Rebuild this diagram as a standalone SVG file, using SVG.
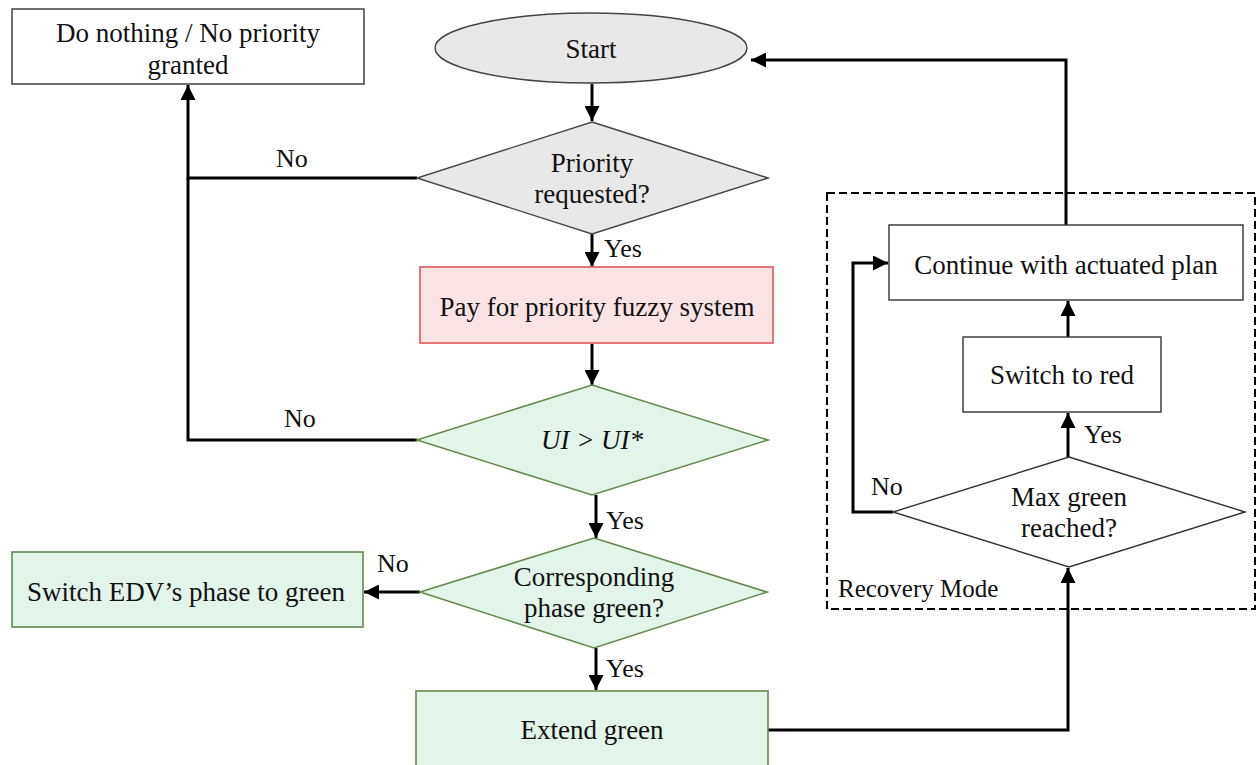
<svg xmlns="http://www.w3.org/2000/svg" width="1257" height="765" viewBox="0 0 1257 765">
<defs>
<style>
text{font-family:"Liberation Serif","Times New Roman",serif;font-size:27px;fill:#111;}
.c{text-anchor:middle;}
.lbl{font-size:26px;}
.white{fill:#fff;stroke:#333;stroke-width:1.4;}
.gray{fill:#e8e8e8;stroke:#444;stroke-width:1.4;}
.red{fill:#f9e3e4;stroke:#e06a6a;stroke-width:1.8;}
.green{fill:#e3f4ea;stroke:#638a4c;stroke-width:1.6;}
.conn{fill:none;stroke:#000;stroke-width:3;}
</style>
<marker id="ah" markerUnits="userSpaceOnUse" markerWidth="15" markerHeight="15" refX="15" refY="7.5" orient="auto">
<path d="M0,0 L15,7.5 L0,15 z" fill="#000"/>
</marker>
</defs>
<rect width="1257" height="765" fill="#fff"/>

<g id="recovery-mode">
<rect x="827" y="193" width="428" height="416" fill="none" stroke="#000" stroke-width="2" stroke-dasharray="8,4"/>
<text x="838" y="597" style="font-size:25px">Recovery Mode</text>
</g>

<g id="connectors">
<path class="conn" d="M592,84 L592,121" marker-end="url(#ah)"/>
<path class="conn" d="M417,178 L188,178 L188,85" marker-end="url(#ah)"/>
<path class="conn" d="M417,440 L188,440 L188,178"/>
<path class="conn" d="M592,234 L592,267" marker-end="url(#ah)"/>
<path class="conn" d="M592,344 L592,385" marker-end="url(#ah)"/>
<path class="conn" d="M596,495 L596,538" marker-end="url(#ah)"/>
<path class="conn" d="M420,592 L364,592" marker-end="url(#ah)"/>
<path class="conn" d="M596,648 L596,690" marker-end="url(#ah)"/>
<path class="conn" d="M768,730 L1068,730 L1068,568" marker-end="url(#ah)"/>
<path class="conn" d="M1068,457 L1068,413" marker-end="url(#ah)"/>
<path class="conn" d="M1068,337 L1068,301" marker-end="url(#ah)"/>
<path class="conn" d="M893,512 L853,512 L853,263 L888,263" marker-end="url(#ah)"/>
<path class="conn" d="M1066,225 L1066,60 L751,60" marker-end="url(#ah)"/>
<text class="lbl" x="276" y="167">No</text>
<text class="lbl" x="604" y="257">Yes</text>
<text class="lbl" x="284" y="427">No</text>
<text class="lbl" x="606" y="529">Yes</text>
<text class="lbl" x="377" y="572">No</text>
<text class="lbl" x="606" y="677">Yes</text>
<text class="lbl" x="871" y="495">No</text>
<text class="lbl" x="1084" y="443">Yes</text>
</g>

<g id="do-nothing">
<rect class="white" x="12" y="9" width="352" height="75"/>
<text class="c" x="188" y="42">Do nothing / No priority</text>
<text class="c" x="188" y="74">granted</text>
</g>

<g id="start">
<ellipse class="gray" cx="591" cy="48" rx="156" ry="35"/>
<text class="c" x="591" y="58">Start</text>
</g>

<g id="priority-requested">
<polygon class="gray" points="592,122 768,178 592,234 417,178"/>
<text class="c" x="592" y="172">Priority</text>
<text class="c" x="592" y="203">requested?</text>
</g>

<g id="pay-for-priority">
<rect class="red" x="420" y="267" width="353" height="76"/>
<text class="c" x="597" y="316">Pay for priority fuzzy system</text>
</g>

<g id="ui-check">
<polygon class="green" points="592,385 768,440 592,495 417,440"/>
<text class="c" x="592" y="449" font-style="italic">UI &gt; UI*</text>
</g>

<g id="corresponding-phase">
<polygon class="green" points="594,538 767,592 594,648 420,592"/>
<text class="c" x="594" y="586">Corresponding</text>
<text class="c" x="594" y="617">phase green?</text>
</g>

<g id="switch-edv">
<rect class="green" x="12" y="552" width="351" height="75"/>
<text class="c" x="186" y="601">Switch EDV’s phase to green</text>
</g>

<g id="extend-green">
<rect class="green" x="416" y="691" width="352" height="78"/>
<text class="c" x="592" y="739">Extend green</text>
</g>

<g id="max-green">
<polygon class="white" points="1069,457 1245,512 1069,567 893,512"/>
<text class="c" x="1069" y="506">Max green</text>
<text class="c" x="1069" y="537">reached?</text>
</g>

<g id="switch-red">
<rect class="white" x="963" y="337" width="198" height="75"/>
<text class="c" x="1062" y="384">Switch to red</text>
</g>

<g id="continue-actuated">
<rect class="white" x="889" y="225" width="354" height="75"/>
<text class="c" x="1066" y="274">Continue with actuated plan</text>
</g>
</svg>
